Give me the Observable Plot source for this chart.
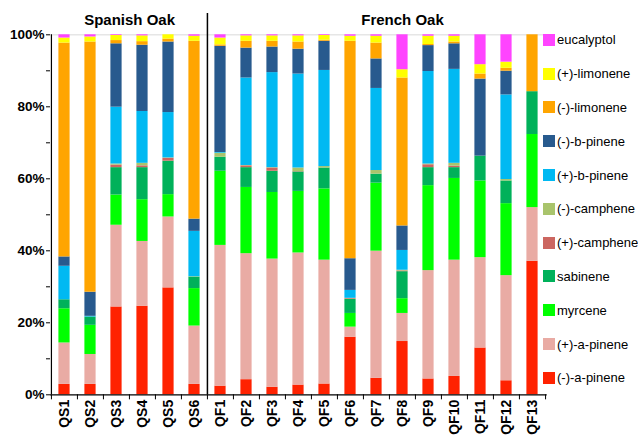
<!DOCTYPE html>
<html>
<head>
<meta charset="utf-8">
<script src="https://cdn.jsdelivr.net/npm/d3@7"></script>
<script src="https://cdn.jsdelivr.net/npm/@observablehq/plot@0.6"></script>
<style>
  html, body { margin: 0; padding: 0; background: #fff; }
  #wrap { position: relative; width: 638px; height: 435px; font-family: "Liberation Sans", Arial, sans-serif; }
  #legend { position: absolute; left: 543px; top: 23px; }
  .row { height: 33.8px; display: flex; align-items: center; font-size: 13px; color: #000; white-space: nowrap; }
  .sw { width: 12px; height: 12px; margin-right: 2px; flex: none; }
</style>
</head>
<body>
<div id="wrap"><div id="legend"></div></div>
<script>
const categories = ["QS1","QS2","QS3","QS4","QS5","QS6","QF1","QF2","QF3","QF4","QF5","QF6","QF7","QF8","QF9","QF10","QF11","QF12","QF13"];

// series, bottom to top of each stack
const seriesNames = ["(-)-a-pinene","(+)-a-pinene","myrcene","sabinene","(+)-camphene","(-)-camphene","(+)-b-pinene","(-)-b-pinene","(-)-limonene","(+)-limonene","eucalyptol"];
const seriesColors = ["#ff2200","#e9aba4","#00ff00","#00b15a","#cc6660","#a9c46c","#00b9f2","#285a8e","#ffa500","#ffff00","#ff44ff"];

const aPineneMinus = [2.9,2.9,24.4,24.6,29.7,2.9, 2.4,4.2,2.1,2.7,3.0,16.0,4.6,14.8,4.4,5.1,13.0,3.9,37.1];
const aPinenePlus  = [11.5,8.3,22.7,18.0,19.7,16.2, 39.1,35.0,35.6,36.7,34.4,2.8,35.3,7.8,30.1,32.3,25.1,29.2,14.9];
const myrcene      = [9.5,8.1,8.4,11.6,6.2,10.4, 20.6,18.4,18.5,17.1,19.8,3.8,18.9,4.1,23.6,22.7,21.3,20.0,20.3];
const sabinene     = [2.5,2.3,7.6,8.9,9.3,3.2, 3.9,5.5,5.9,5.4,5.8,3.9,2.5,7.5,5.0,3.0,6.9,6.3,11.9];
const camphenePlus = [0,0,0.7,0.5,0.8,0, 0,0.5,0.9,0.1,0,0.2,0,0.2,0.8,0.4,0,0,0];
const campheneMinus= [0,0,0.3,0.7,0.1,0.1, 1.1,0.1,0.1,1.0,0.4,0.1,1.0,0.2,0.2,0.8,0,0.4,0];
const bPinenePlus  = [9.3,0.2,15.8,14.4,12.6,12.6, 0.2,24.3,26.4,26.1,26.7,2.2,22.8,5.5,25.7,26.1,0,23.5,0];
const bPineneMinus = [2.6,6.7,17.6,18.4,19.6,3.4, 29.5,8.3,7.1,6.9,8.1,8.8,8.2,6.8,7.2,7.1,21.4,6.6,0];
const limoneneMinus= [59.4,69.5,0.9,1.0,0.8,49.4, 0.4,1.9,1.6,2.0,0.3,60.4,4.4,41.1,0.3,0.5,1.4,0.8,15.8];
const limonenePlus = [1.4,1.4,1.4,1.6,1.2,1.4, 1.9,1.5,1.5,1.7,1.3,1.4,1.9,2.3,2.3,1.6,2.6,1.7,0];
const eucalyptol   = [0.9,0.6,0.2,0.3,0,0.4, 0.9,0.3,0.3,0.3,0.2,0.4,0.4,9.7,0.4,0.4,8.3,7.6,0];

const seriesValues = [aPineneMinus,aPinenePlus,myrcene,sabinene,camphenePlus,campheneMinus,bPinenePlus,bPineneMinus,limoneneMinus,limonenePlus,eucalyptol];

const yMajor = [0,20,40,60,80,100];
const yMinor = [10,30,50,70,90];
const groupTitles = ["Spanish Oak","French Oak"];

const data = [];
seriesNames.forEach((s, i) => categories.forEach((c, j) => data.push({sample: c, series: s, value: seriesValues[i][j]})));

const W = 638, H = 435, mL = 50, mR = 91.3, mT = 34.3, mB = 40.7;
const step = (W - mL - mR) / categories.length;

const chart = Plot.plot({
  width: W, height: H,
  marginLeft: mL, marginRight: mR, marginTop: mT, marginBottom: mB,
  style: {fontFamily: "Liberation Sans, Arial, sans-serif", fontSize: "13px", color: "#000", background: "transparent", overflow: "visible"},
  x: {domain: categories, padding: 0, label: null},
  y: {domain: [0, 100], label: null},
  color: {domain: seriesNames, range: seriesColors},
  marks: [
    Plot.ruleY([100], {stroke: "#e6e6e6", strokeWidth: 1.5}),
    Plot.barY(data, {x: "sample", y: "value", fill: "series", insetLeft: 7.4, insetRight: 7.4}),
    Plot.ruleY([0], {stroke: "#000", strokeWidth: 1.2}),
    Plot.ruleX([categories[0]], {dx: -step / 2, stroke: "#000", strokeWidth: 1.2}),
    Plot.ruleX(categories, {dx: -step / 2, y1: 0, y2: -1.4, stroke: "#000"}),
    Plot.ruleX([categories[categories.length - 1]], {dx: step / 2, y1: 0, y2: -1.4, stroke: "#000"}),
    Plot.ruleX(["QF1"], {dx: -step / 2, y1: 0, y2: 105.9, stroke: "#000", strokeWidth: 1.5}),
    Plot.axisY({ticks: yMajor, tickFormat: d => d + "%", tickSize: 4, tickPadding: 2, fontSize: 13.5, fontWeight: "bold"}),
    Plot.axisY({ticks: yMinor, tickFormat: () => "", tickSize: 4}),
    Plot.axisX({tickSize: 0, tickRotate: -90, tickPadding: 5, fontSize: 14, fontWeight: "bold"}),
    Plot.text([groupTitles[0]], {x: ["QS3"], y: [100], dx: step / 2, dy: -15, fontSize: 15, fontWeight: "bold", text: d => d}),
    Plot.text([groupTitles[1]], {x: ["QF8"], y: [100], dy: -15, fontSize: 15, fontWeight: "bold", text: d => d})
  ]
});
document.getElementById("wrap").prepend(chart);

const legend = document.getElementById("legend");
for (let i = seriesNames.length - 1; i >= 0; i--) {
  const row = document.createElement("div");
  row.className = "row";
  const sw = document.createElement("span");
  sw.className = "sw";
  sw.style.background = seriesColors[i];
  const lab = document.createElement("span");
  lab.textContent = seriesNames[i];
  row.append(sw, lab);
  legend.append(row);
}
</script>
</body>
</html>
